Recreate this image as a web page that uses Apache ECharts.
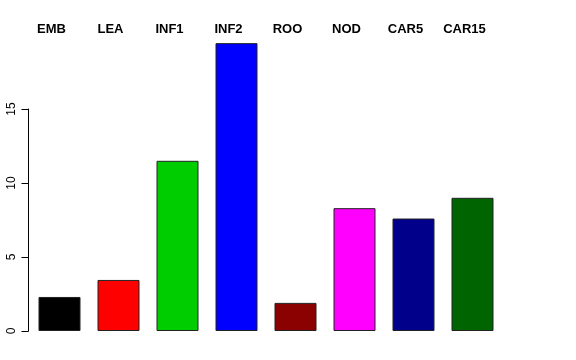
<!DOCTYPE html>
<html>
<head>
<meta charset="utf-8">
<script src="https://cdn.jsdelivr.net/npm/echarts@6/dist/echarts.min.js"></script>
<style>
html,body{margin:0;padding:0;background:#fff;}
#main{width:576px;height:360px;}
</style>
</head>
<body>
<div id="main"></div>
<script>
var categories = ['EMB', 'LEA', 'INF1', 'INF2', 'ROO', 'NOD', 'CAR5', 'CAR15'];
var values = [2.3, 3.45, 11.5, 19.45, 1.9, 8.3, 7.6, 9.0];
var colors = ['#000000', '#ff0000', '#00cd00', '#0000ff', '#8b0000', '#ff00ff', '#00008b', '#006400'];
var yTicks = [0, 5, 10, 15];

var chart = echarts.init(document.getElementById('main'), null, {renderer: 'canvas'});
var font = '"Liberation Sans", Arial, Helvetica, sans-serif';
chart.setOption({
  backgroundColor: '#ffffff',
  animation: false,
  grid: [
    {left: 30, top: 35, width: 472, height: 296},
    {left: 28.5, top: 109, width: 472, height: 222}
  ],
  xAxis: [
    {
      gridIndex: 0, type: 'category', data: categories, position: 'top',
      axisLine: {show: false}, axisTick: {show: false},
      axisLabel: {fontFamily: font, fontWeight: 'bold', fontSize: 13, color: '#000',
        margin: -1, padding: [0, 16, 0, 0], interval: 0}
    },
    {gridIndex: 1, type: 'value', show: false}
  ],
  yAxis: [
    {gridIndex: 0, type: 'value', min: 0, max: 20, show: false},
    {
      gridIndex: 1, type: 'value', min: yTicks[0], max: yTicks[yTicks.length - 1], interval: 5,
      axisLine: {show: true, lineStyle: {color: '#000', width: 1}},
      axisTick: {show: true, length: 7, lineStyle: {color: '#000'}},
      splitLine: {show: false},
      axisLabel: {rotate: 90, fontFamily: font, fontSize: 12, color: '#000', margin: 11}
    }
  ],
  series: [{
    type: 'bar',
    xAxisIndex: 0, yAxisIndex: 0,
    barWidth: 42,
    data: values.map(function (v, i) {
      return {value: v, itemStyle: {color: colors[i], borderColor: '#222', borderWidth: 1}};
    })
  }]
});
</script>
</body>
</html>
